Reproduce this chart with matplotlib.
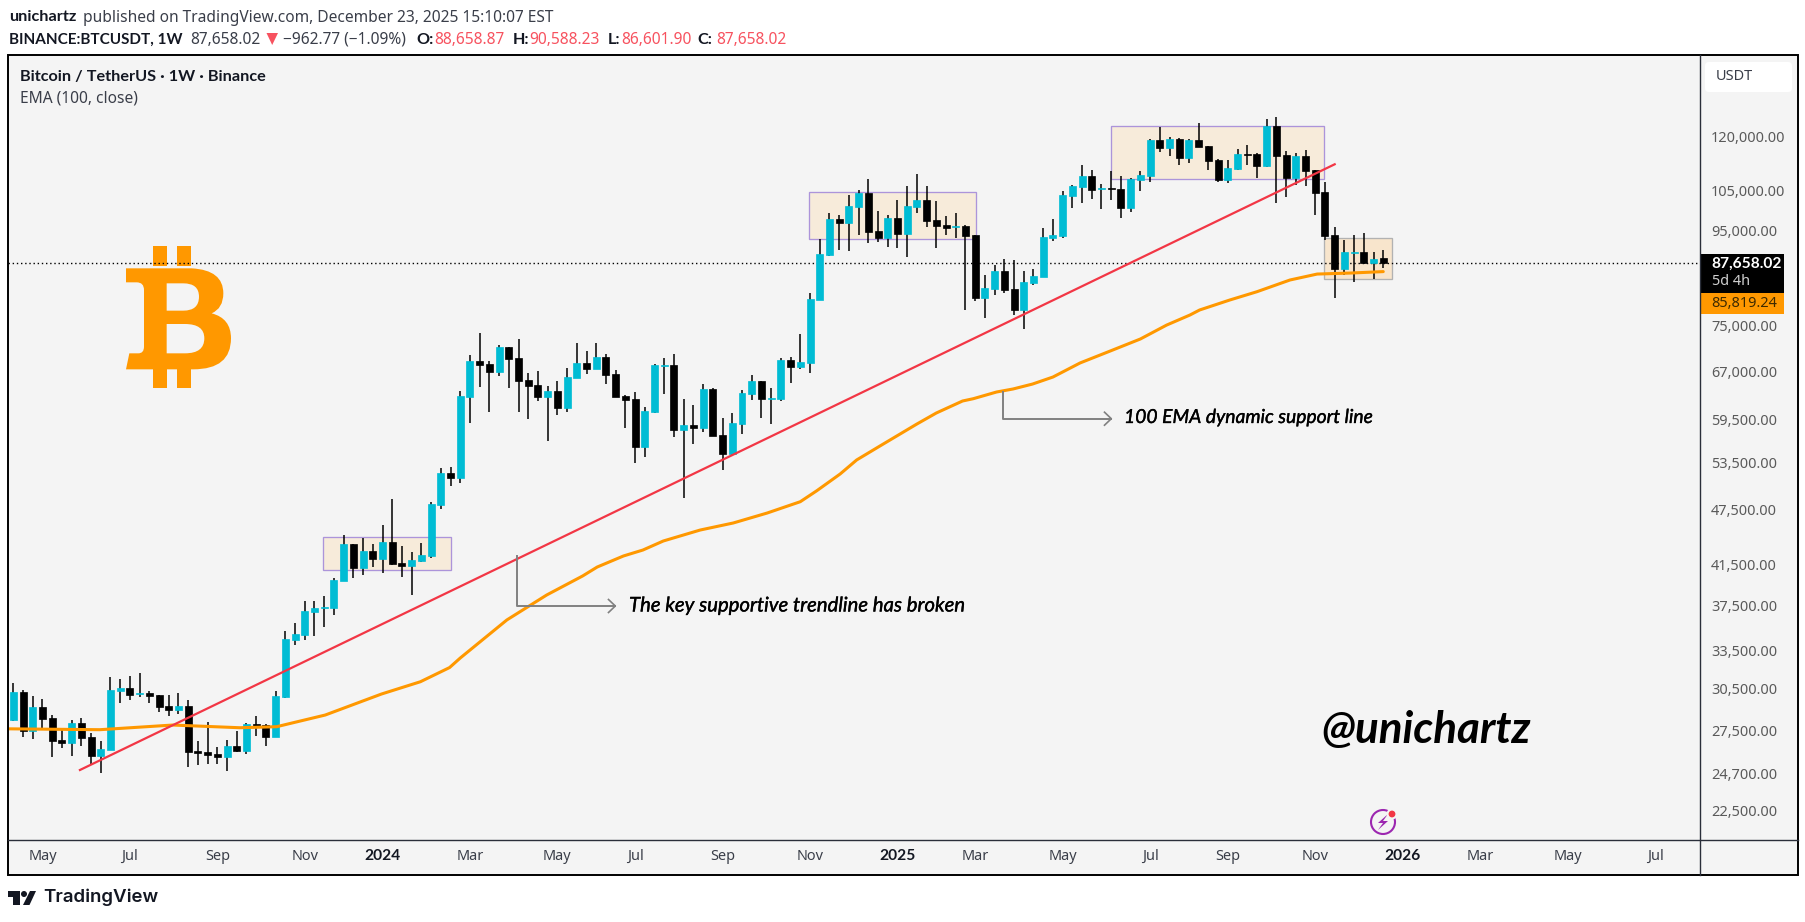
import matplotlib
matplotlib.use("Agg")
from matplotlib import pyplot as plt
from matplotlib import patheffects
from matplotlib.patches import Rectangle, Circle, Polygon, PathPatch, FancyBboxPatch
from matplotlib.path import Path
import numpy as np

# weekly candles, BINANCE:BTCUSDT
opens = [
    28200, 30230, 27460, 29125, 28340, 26835, 26650, 27990, 27035, 25807,
    26196, 30306, 30530, 30100, 30155, 30005, 29200, 28910, 29200, 26113,
    26048, 25920, 25728, 26440, 26113, 27921, 27850, 27055, 29860, 34395,
    34830, 36900, 37250, 37270, 39850, 43640, 41155, 42897, 42083, 43870,
    41640, 41325, 41845, 42370, 48080, 52060, 51460, 62860, 68741, 68240,
    66890, 71170, 69250, 65575, 64760, 62860, 63809, 61175, 65900, 68410,
    67390, 69420, 66560, 63020, 62555, 55530, 60570, 67960, 68075, 57920,
    58645, 58215, 64130, 57210, 54575, 58790, 63330, 65412, 62600, 62555,
    68910, 67720, 68410, 79975, 89420, 97785, 96820, 100730, 104300, 94915,
    93280, 98030, 94210, 100730, 102510, 97540, 96340, 95860, 96100, 93980,
    80370, 82190, 85945, 82190, 78020, 83420, 84670, 93280, 93750, 103540,
    105860, 108800, 105340, 105600, 105340, 100480, 107720, 108800, 118965, 116620,
    119260, 113770, 118965, 117200, 113200, 107720, 110700, 114890, 114890, 111520,
    123150, 114610, 108260, 114330, 110430, 104560, 93980, 86375, 89875, 90095,
    87670, 88658.87,
]
highs = [
    30930, 30380, 29930, 29710, 28550, 27600, 28200, 28340, 27306, 26769,
    31376, 31222, 31450, 31690, 30306, 30005, 30005, 30155, 29637, 26769,
    28061, 26372, 26835, 27442, 27990, 28480, 27921, 30306, 35172, 35880,
    37891, 37891, 38360, 40115, 44630, 43640, 44310, 43640, 45750, 48805,
    43435, 42790, 43770, 48440, 52710, 52840, 63809, 69770, 73630, 68741,
    71530, 71170, 72600, 66725, 67056, 64600, 65412, 67555, 71880, 70468,
    71880, 69950, 67225, 63180, 63650, 61330, 68240, 69250, 69950, 62555,
    61640, 64920, 64285, 59675, 60420, 63965, 66390, 65412, 64285, 69250,
    69420, 73500, 81380, 93050, 99250, 98760, 103800, 105080, 108000, 99745,
    98760, 102510, 106120, 109340, 106120, 102252, 98520, 99250, 96340, 93980,
    85090, 87230, 88545, 88325, 85945, 86375, 95630, 97785, 104821, 106390,
    111800, 110430, 106650, 110155, 108800, 108260, 110155, 119260, 122850, 119850,
    119560, 119260, 124090, 117200, 113490, 113200, 116330, 117490, 115180, 125330,
    125950, 115761, 115180, 116045, 110430, 107190, 95860, 92820, 93980, 94445,
    90095, 90588.23,
]
lows = [
    28130, 27050, 26920, 27600, 25745, 26330, 25810, 26455, 25300, 24743,
    26196, 29438, 29660, 29880, 29438, 28790, 28500, 28645, 25114, 25240,
    25302, 25302, 24866, 26048, 25940, 27120, 26455, 27055, 29810, 33995,
    34420, 34770, 35520, 36595, 39850, 40150, 40445, 41255, 40650, 41430,
    40245, 38485, 41775, 42190, 47650, 50450, 50825, 58980, 64450, 60570,
    66275, 64285, 60570, 59525, 62245, 56362, 60120, 60570, 65900, 66560,
    67390, 64920, 62860, 58215, 53365, 54165, 60420, 63330, 56925, 48930,
    55945, 57635, 57070, 52450, 54440, 57350, 62400, 59675, 58790, 62245,
    65085, 67390, 66725, 79975, 89200, 90545, 90319, 93980, 92130, 92360,
    91220, 90990, 88980, 99250, 95860, 90990, 93980, 93280, 78020, 79778,
    76480, 80990, 81380, 77050, 74425, 83010, 84670, 92588, 93280, 100480,
    101750, 102760, 100240, 102510, 98030, 99500, 104821, 107190, 115470, 114330,
    111800, 112365, 116910, 110430, 107190, 106920, 110430, 111800, 108260, 111240,
    101750, 103280, 106390, 106120, 98760, 92820, 80370, 85090, 83630, 87450,
    84260, 86601.90,
]
closes = [
    30230, 27460, 29125, 28290, 26790, 26650, 27990, 26990, 25807, 26243,
    30380, 30530, 30025, 30155, 29930, 29125, 28910, 29200, 26068, 25983,
    25855, 25728, 26440, 26113, 27921, 27782, 27055, 29930, 34480, 34950,
    36962, 37210, 37300, 39917, 43640, 41155, 42897, 42083, 43870, 41565,
    41325, 41950, 42475, 48200, 52060, 51460, 63020, 68741, 68075, 66890,
    71170, 69080, 65460, 64600, 62860, 63809, 61175, 66060, 68410, 67390,
    69420, 66390, 62860, 62400, 55530, 60719, 68075, 68075, 57920, 58645,
    58215, 64130, 57070, 54575, 58940, 63495, 65412, 62555, 62700, 68910,
    67720, 68575, 80175, 89650, 97785, 96820, 100980, 104300, 94680, 93280,
    98030, 94210, 100980, 102510, 97300, 96100, 95630, 96100, 93750, 80370,
    82395, 85945, 81985, 78020, 83630, 84880, 93510, 93980, 103800, 106120,
    108800, 105080, 105600, 105340, 100570, 108000, 109070, 118965, 116620, 119260,
    113770, 118965, 116910, 112923, 107720, 110980, 114890, 114610, 111520, 123150,
    114330, 108260, 114330, 110155, 104300, 93750, 86375, 90095, 90095, 87670,
    88545, 87658.02,
]

# EMA 100, read at these bar positions
ema_x = [-0.55, 8.9, 16.4, 23.3, 27.1, 32.1, 37.9, 41.9, 44.9, 46, 50.8, 54.9, 58.6, 60.1,
         62.8, 64.8, 66.9, 70.7, 74.1, 77.6, 81, 82.7, 85.1, 86.8, 89.2, 93, 95, 97.7,
         98.8, 101.2, 102.9, 104.9, 107, 109.8, 112.9, 116, 118.7, 121.1, 122.1, 125.2,
         128, 131.4, 134.2, 137.6, 141]
ema_val = [27590, 27530, 27850, 27665, 27735, 28550, 30080, 31010, 32120, 32890, 36150, 38460,
           40320, 41225, 42370, 43000, 43975, 45190, 45985, 47140, 48480, 49820, 51930, 53770,
           55670, 58790, 60420, 62245, 62600, 63650, 64130, 64920, 66060, 68410, 70468, 72600,
           75150, 77050, 78020, 79975, 81640, 84050, 85300, 85510, 85819.24]

trend_x = [6.86, 136.0]
trend_val = [24910, 112010]

# consolidation boxes: x0, x1, low, high
box_x0 = [31.9, 81.9, 113.0, 134.9]
box_x1 = [45.0, 99.05, 134.9, 141.9]
box_low = [40890, 93000, 107910, 84200]
box_high = [44380, 104480, 123170, 93210]

last_price = 87658.02
ema_last = 85819.24

y_ticks = [120000, 105000, 95000, 75000, 67000, 59500, 53500, 47500, 41500, 37500, 33500,
           30500, 27500, 24700, 22500]
x_ticks = [3, 12, 21, 30, 38, 47, 56, 64, 73, 82, 91, 99, 108, 117, 125, 134, 143, 151, 160, 169]
x_labels = ["May", "Jul", "Sep", "Nov", "2024", "Mar", "May", "Jul", "Sep", "Nov", "2025",
            "Mar", "May", "Jul", "Sep", "Nov", "2026", "Mar", "May", "Jul"]

W, H = 1806, 922
UP = "#00BCD4"
ORANGE = "#FF9800"
LINE = "#2A2E39"
PANEL = "#F4F4F4"
UI = "Noto Sans"
BOLD = "Lato"
NOTE = "Lato"


def pt(px):
    return px * 0.72


def full_axes(z):
    a = plt.axes([0, 0, 1, 1], zorder=z)
    a.set_xlim(0, W)
    a.set_ylim(H, 0)
    a.axis("off")
    return a


fig = plt.figure(figsize=(W / 100, H / 100), dpi=100, facecolor="white")
bg = full_axes(0)
fg = full_axes(3)

# panel and frame
bg.add_patch(Rectangle((8, 55.5), 1790, 819.5, fc=PANEL, ec="none"))

# bitcoin logo, traced in pixels of the picture
def logo_xy(zx, zy):
    return (100 + zx / 3, 225 + zy / 3)

outer = [(78, 130), (275, 130), (370, 135), (370, 205), (370, 250), (335, 265), (393, 280), (393, 340),
         (393, 433), (280, 433), (78, 433), (88, 385), (115, 385), (132, 385), (132, 365), (132, 195),
         (132, 172), (110, 172), (78, 172), (78, 130)]
outer_c = [Path.MOVETO, Path.LINETO, Path.CURVE3, Path.CURVE3, Path.CURVE3, Path.CURVE3, Path.CURVE3, Path.CURVE3,
           Path.CURVE3, Path.CURVE3, Path.LINETO, Path.LINETO, Path.LINETO, Path.CURVE3, Path.CURVE3, Path.LINETO,
           Path.CURVE3, Path.CURVE3, Path.LINETO, Path.CLOSEPOLY]
hole1 = [(200, 175), (200, 257), (250, 257), (297, 257), (297, 215), (297, 175), (250, 175), (200, 175)]
hole2 = [(200, 297), (200, 385), (255, 385), (313, 385), (313, 340), (313, 297), (255, 297), (200, 297)]
hole_c = [Path.MOVETO, Path.LINETO, Path.LINETO, Path.CURVE3, Path.CURVE3, Path.CURVE3, Path.CURVE3, Path.CLOSEPOLY]
verts = [logo_xy(*p) for p in outer + hole1 + hole2]
bg.add_patch(PathPatch(Path(verts, outer_c + hole_c + hole_c), fc=ORANGE, ec="none"))
for bx in [153.3, 177.3]:
    bg.add_patch(Rectangle((bx, 246), 13.5, 20, fc=ORANGE, ec="none"))
    bg.add_patch(Rectangle((bx, 368), 13.5, 20, fc=ORANGE, ec="none"))

# main chart
ax = fig.add_axes([8 / W, 1 - 840 / H, (1700 - 8) / W, (840 - 55.5) / H], zorder=1)
ax.patch.set_alpha(0)
ax.set_yscale("log")
ax.set_xlim(-0.545, 173.6)
ax.set_ylim(20937, 146730)
for s in ax.spines.values():
    s.set_visible(False)

for x0, x1, lo, hi, i in zip(box_x0, box_x1, box_low, box_high, range(4)):
    ec = "#B2B2B2" if i == 3 else "#AC94DA"
    fc = "#F8E5CC" if i == 3 else "#F7EBDA"
    ax.add_patch(Rectangle((x0, lo), x1 - x0, hi - lo, fc=fc, ec=ec, lw=0.95, zorder=1))

idx = np.arange(len(opens))
o = np.array(opens)
c = np.array(closes)
colors = ["black" if c[i] < o[i] else UP for i in idx]
ax.vlines(idx, lows, highs, colors="black", lw=1.1, zorder=2)
ax.bar(idx, np.abs(c - o), bottom=np.minimum(o, c), width=0.72, color=colors, ec=colors, lw=0.5, zorder=3)

ax.plot(ema_x, ema_val, color=ORANGE, lw=2.2, zorder=4, solid_capstyle="round")
ax.plot(trend_x, trend_val, color="#F23645", lw=1.6, zorder=5)
ax.axhline(last_price, color="black", lw=1.0, ls=(0, (1, 2)), zorder=2.5)

ax.yaxis.tick_right()
ax.minorticks_off()
ax.set_yticks(y_ticks)
ax.set_yticklabels([f"{v:,.2f}" for v in y_ticks], fontfamily=UI, fontsize=pt(14.5), color="#5A5A5A")
ax.set_xticks(x_ticks)
ax.set_xticklabels(x_labels, fontfamily=UI, fontsize=pt(14.5), color="#3A3E49")
for lab in ax.get_xticklabels():
    if lab.get_text().startswith("20"):
        lab.set_fontfamily(BOLD)
        lab.set_fontweight("bold")
        lab.set_fontsize(pt(15.5))
        lab.set_color("#131722")
ax.tick_params(axis="y", length=0, pad=pt(11))
ax.tick_params(axis="x", length=0, pad=pt(9))
ax.minorticks_off()

# scale lines and outer frame
fg.plot([1700, 1700], [55.5, 875], color=LINE, lw=1.0)
fg.plot([8, 1798], [840, 840], color=LINE, lw=1.0)
fg.add_patch(Rectangle((8, 55.5), 1790, 819.5, fc="none", ec="black", lw=1.4))

# header
def label(x, y, s, **kw):
    kw.setdefault("fontfamily", UI)
    kw.setdefault("fontsize", pt(15.5))
    kw.setdefault("color", "#131722")
    fg.text(x, y, s, va="center", ha="left", **kw)


def bold(x, y, s, size=16.3):
    label(x, y, s, fontfamily=BOLD, fontweight="bold", fontsize=pt(size))


RED = "#F7525F"
bold(9, 17, "unichartz")
label(83, 17.5, "published on TradingView.com, December 23, 2025 15:10:07 EST", color="#3A3E49")
bold(9, 39.5, "BINANCE:BTCUSDT, 1W", size=15.2)
label(190, 40, "87,658.02", color="#3A3E49")
fg.add_patch(Polygon([(266.5, 33), (278, 33), (272.2, 45)], fc=RED, ec="none"))
label(283.5, 40, "\u2212962.77 (\u22121.09%)", color="#3A3E49")
for xa, xb, a, b in [(416.5, 434, "O:", "88,658.87"), (512.5, 529, "H:", "90,588.23"),
                     (608, 621, "L:", "86,601.90"), (697, 716, "C:", "87,658.02")]:
    bold(xa, 39.5, a)
    label(xb, 40, b, color=RED)

bold(19.6, 77, "Bitcoin / TetherUS \u00b7 1W \u00b7 Binance")
label(19.6, 98.5, "EMA (100, close)", color="#3A3E49")

# price scale extras
fg.add_patch(FancyBboxPatch((1707, 64), 83, 26, boxstyle="round,pad=2,rounding_size=4", fc="white", ec="none"))
label(1716, 77, "USDT", color="#3A3E49", fontsize=pt(14.5))
fg.add_patch(Rectangle((1700.5, 254), 83.5, 39, fc="black", ec="none"))
fg.text(1711.7, 264, "87,658.02", color="white", fontfamily=BOLD, fontweight="bold", fontsize=pt(15.5),
        va="center", ha="left")
label(1711.7, 281.5, "5d 4h", color="#D0D0D0", fontsize=pt(14.5))
fg.add_patch(Rectangle((1700.5, 293), 83.5, 21, fc=ORANGE, ec="none"))
label(1711.7, 303, f"{ema_last:,.2f}", color="#3D2A00", fontsize=pt(14.5))

# annotations
GREY = "#808080"
fg.plot([517.3, 517.3, 615], [556, 606, 606], color=GREY, lw=1.4)
fg.plot([608.5, 615.3, 608.5], [599.5, 606, 612.5], color=GREY, lw=1.2)
fg.plot([1003.3, 1003.3, 1111], [391.7, 418.7, 418.7], color=GREY, lw=1.4)
fg.plot([1104.5, 1111.3, 1104.5], [412.2, 418.7, 425.2], color=GREY, lw=1.2)
heavier = [patheffects.withStroke(linewidth=0.25, foreground="black")]
label(629, 606, "The key supportive trendline has broken", fontfamily=NOTE, style="italic",
      fontsize=pt(20.3), color="black", path_effects=heavier)
label(1124, 417.5, "100 EMA dynamic support line", fontfamily=NOTE, style="italic",
      fontsize=pt(19.3), color="black", path_effects=heavier)
label(1321, 730, "@unichartz", fontfamily=NOTE, style="italic", fontweight="bold",
      fontsize=pt(44), color="black")

# bolt icon
fg.add_patch(Circle((1383, 822), 12, fc="none", ec="#9C27B0", lw=1.5))
fg.add_patch(Polygon([(1388, 814), (1378, 823), (1383, 823), (1378, 830), (1388, 821), (1383, 821)],
                     fc="#9C27B0", ec="none"))
fg.add_patch(Circle((1392, 814), 5.5, fc=PANEL, ec="none"))
fg.add_patch(Circle((1392, 814), 3.4, fc="#F23645", ec="none"))

# TradingView logo
fg.add_patch(Polygon([(8, 891), (20, 891), (20, 905), (13.5, 905), (13.5, 897), (8, 897)], fc="#131722", ec="none"))
fg.add_patch(Circle((24, 894), 3, fc="#131722", ec="none"))
fg.add_patch(Polygon([(30, 891), (36, 891), (29.5, 905), (23, 905)], fc="#131722", ec="none"))
label(43, 897.5, "TradingView", fontfamily="Inter", fontweight="semibold", fontsize=pt(18.7))

fig.savefig("out.png", dpi=100)
